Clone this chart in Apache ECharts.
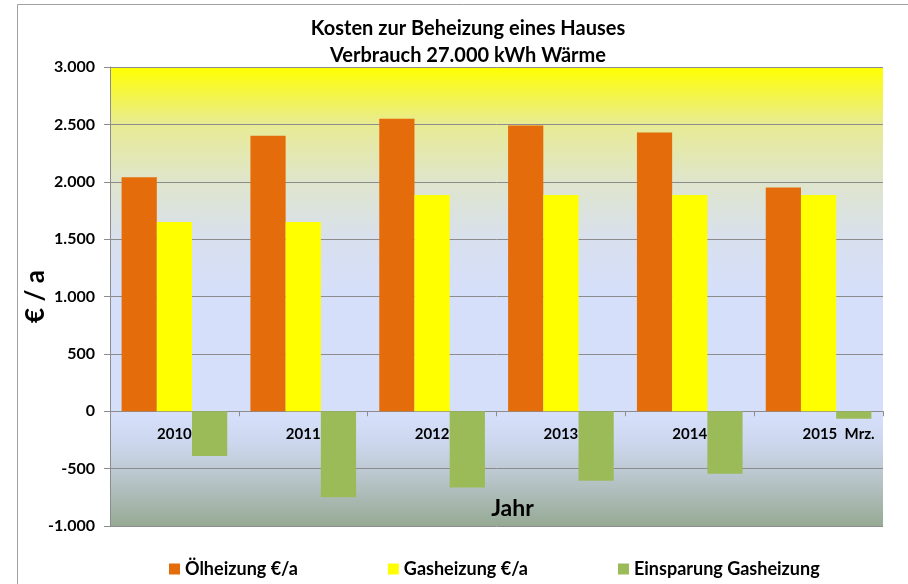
<!DOCTYPE html>
<html>
<head>
<meta charset="utf-8">
<script src="https://cdn.jsdelivr.net/npm/echarts@6/dist/echarts.min.js"></script>
<style>html,body{margin:0;padding:0;background:#fff}#c{width:908px;height:584px}</style>
</head>
<body>
<div id="c"></div>
<script>
const categories = ['2010', '2011', '2012', '2013', '2014', '2015  Mrz.'];
const oelheizung = [2040, 2400, 2550, 2490, 2430, 1950];
const gasheizung = [1650, 1650, 1885, 1885, 1885, 1885];
const einsparung = [-390, -750, -665, -605, -545, -65];
const seriesNames = ['Ölheizung €/a', 'Gasheizung €/a', 'Einsparung Gasheizung'];
const titleText = 'Kosten zur Beheizung eines Hauses\nVerbrauch 27.000 kWh Wärme';
const yMin = -1000, yMax = 3000, yStep = 500;

const FONT = 'Lato';
function de(v) {
  const s = Math.abs(v).toString().replace(/\B(?=(\d{3})+(?!\d))/g, '.');
  return (v < 0 ? '-' : '') + s;
}

const chart = echarts.init(document.getElementById('c'), null, {renderer: 'canvas'});
chart.setOption({
  backgroundColor: '#ffffff',
  animation: false,
  graphic: [{
    type: 'rect', silent: true, z: -10,
    shape: {x: 17.5, y: 4.5, width: 1000, height: 1000},
    style: {fill: 'none', stroke: '#a0a0a0', lineWidth: 1}
  }],
  title: {
    text: titleText,
    left: 468,
    textAlign: 'center',
    top: 15,
    padding: 0,
    textStyle: {fontFamily: FONT, fontWeight: 'bold', fontSize: 20, lineHeight: 27, color: '#000'}
  },
  legend: {
    left: 164,
    top: 555,
    itemWidth: 11,
    itemHeight: 11,
    itemGap: 90,
    icon: 'rect',
    textStyle: {fontFamily: FONT, fontWeight: 'bold', fontSize: 18, color: '#000'},
    data: seriesNames
  },
  grid: {
    left: 110, right: 25, top: 67, bottom: 58,
    outerBoundsMode: 'none',
    containLabel: false,
    show: true,
    borderWidth: 0,
    backgroundColor: new echarts.graphic.LinearGradient(0, 0, 0, 1, [
      {offset: 0, color: '#FFFF00'},
      {offset: 0.125, color: '#E8EB94'},
      {offset: 0.25, color: '#DFE5CC'},
      {offset: 0.375, color: '#D8E0EE'},
      {offset: 0.5, color: '#D5DFFA'},
      {offset: 0.76, color: '#D5DFFA'},
      {offset: 0.82, color: '#CCD7EE'},
      {offset: 0.875, color: '#BFCAD5'},
      {offset: 1, color: '#96AA94'}
    ])
  },
  xAxis: {
    type: 'category',
    data: categories,
    position: 'bottom',
    offset: 0,
    name: 'Jahr',
    nameLocation: 'middle',
    nameGap: 86,
    nameMoveOverlap: false,
    nameTextStyle: {fontFamily: FONT, fontWeight: 'bold', fontSize: 23, color: '#000', padding: [0, 0, 0, 32]},
    axisLine: {onZero: false, lineStyle: {color: '#8c8c8c', width: 1}},
    axisTick: {show: true, alignWithLabel: false, length: 5, lineStyle: {color: '#8c8c8c'}},
    axisLabel: {
      margin: 15,
      fontFamily: FONT, fontWeight: 'bold', fontSize: 15, color: '#000',
      formatter: function (v, i) { return i === categories.length - 1 ? '{s|' + v + '}' : v; },
      rich: {s: {fontFamily: FONT, fontWeight: 'bold', fontSize: 15, color: '#000', padding: [0, 0, 0, 40]}}
    },
    splitLine: {show: false}
  },
  yAxis: {
    type: 'value',
    min: yMin, max: yMax, interval: yStep,
    name: '€ / a',
    nameLocation: 'middle',
    nameRotate: 90,
    nameGap: 61,
    nameMoveOverlap: false,
    nameTextStyle: {fontFamily: FONT, fontWeight: 'bold', fontSize: 26, color: '#000'},
    axisLine: {show: true, lineStyle: {color: '#8c8c8c', width: 1}},
    axisTick: {show: true, length: 6, lineStyle: {color: '#8c8c8c'}},
    axisLabel: {margin: 15, fontFamily: FONT, fontWeight: 'bold', fontSize: 16, color: '#000', formatter: de},
    splitLine: {show: true, lineStyle: {color: '#8c8c8c', width: 1}}
  },
  series: [
    {name: seriesNames[0], type: 'bar', data: oelheizung, barGap: '0%', barCategoryGap: '18%', itemStyle: {color: '#E46C0A'}},
    {name: seriesNames[1], type: 'bar', data: gasheizung, barGap: '0%', barCategoryGap: '18%', itemStyle: {color: '#FFFF00'}},
    {name: seriesNames[2], type: 'bar', data: einsparung, barGap: '0%', barCategoryGap: '18%', itemStyle: {color: '#9BBB59'}}
  ]
});
// Move the category axis (line, ticks, labels, name) up to the zero value, using the library's y scale.
const yZero = chart.convertToPixel({yAxisIndex: 0}, 0);
const yBottom = chart.convertToPixel({yAxisIndex: 0}, yMin);
chart.setOption({xAxis: {offset: -(yBottom - yZero)}});
</script>
</body>
</html>
